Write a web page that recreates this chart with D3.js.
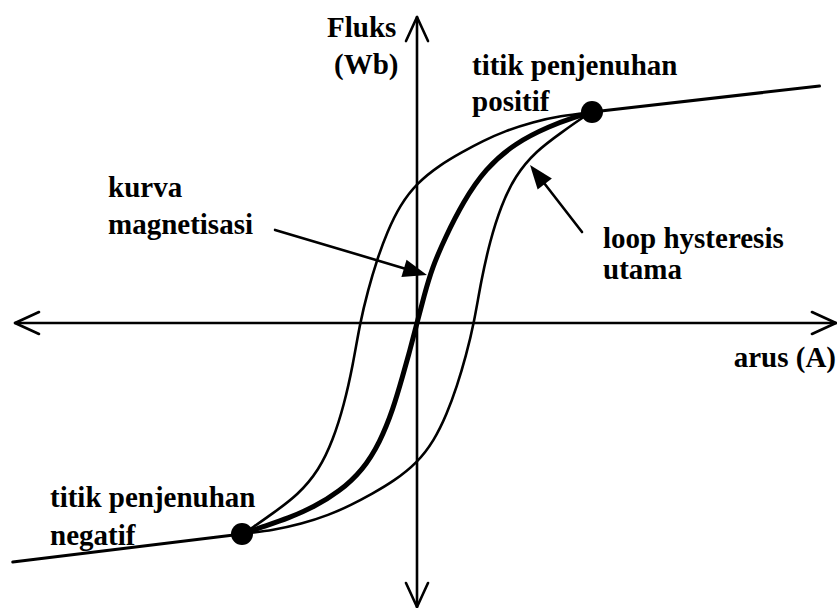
<!DOCTYPE html>
<html>
<head>
<meta charset="utf-8">
<script src="https://cdn.jsdelivr.net/npm/d3@7/dist/d3.min.js"></script>
<style>
  html, body { margin: 0; padding: 0; background: #fff; }
</style>
</head>
<body>
<svg id="chart" width="837" height="608"></svg>
<script>
// Normalised current (x) and flux (y); saturation at (±1, ±1).
const saturationPoints = [[1, 1], [-1, -1]];

// Beyond saturation the flux grows only slowly.
const saturationTailPos = [[1, 1], [2.30, 1.123]];
const saturationTailNeg = [[-1, -1], [-2.31, -1.133]];

// Initial magnetisation curve (drawn heavy).
const magnetisationCurve = [
  [-1, -1], [-0.886, -0.967], [-0.731, -0.924], [-0.589, -0.872], [-0.446, -0.801],
  [-0.309, -0.697], [-0.211, -0.564], [-0.137, -0.41], [-0.08, -0.246], [-0.04, -0.128],
  [0, 0], [0.04, 0.128], [0.086, 0.261], [0.16, 0.403], [0.263, 0.573],
  [0.389, 0.73], [0.56, 0.853], [0.76, 0.934], [0.903, 0.976], [1, 1]
];

// Main hysteresis loop: descending branch (positive -> negative saturation).
const loopDescending = [
  [1, 1], [0.817, 0.981], [0.663, 0.953], [0.503, 0.91], [0.377, 0.863],
  [0.257, 0.81], [0.131, 0.749], [0, 0.664], [-0.097, 0.559], [-0.171, 0.431],
  [-0.229, 0.299], [-0.28, 0.156], [-0.326, 0], [-0.366, -0.199], [-0.417, -0.389],
  [-0.48, -0.555], [-0.56, -0.697], [-0.68, -0.815], [-0.829, -0.905],
  [-0.943, -0.972], [-1, -1]
];

// Main hysteresis loop: ascending branch (negative -> positive saturation).
const loopAscending = [
  [-1, -1], [-0.817, -0.981], [-0.663, -0.953], [-0.503, -0.91], [-0.377, -0.863],
  [-0.257, -0.81], [-0.131, -0.749], [0, -0.664], [0.097, -0.559], [0.171, -0.431],
  [0.229, -0.299], [0.28, -0.156], [0.326, 0], [0.366, 0.199], [0.417, 0.389],
  [0.48, 0.555], [0.56, 0.697], [0.68, 0.815], [0.829, 0.905],
  [0.943, 0.972], [1, 1]
];

// Axis extents in data units.
const xAxisExtent = [-2.297, 2.394];
const yAxisExtent = [-1.346, 1.45];

// Callout arrows: [from, to] in data units.
const calloutMagnetisation = [[-0.811, 0.441], [0.057, 0.227]];
const calloutLoop = [[0.943, 0.431], [0.646, 0.749]];

const labels = [
  { lines: ["Fluks", "(Wb)"], x: 327, y: 37, dy: 37, dx: [0, 7] },
  { lines: ["titik penjenuhan", "positif"], x: 472, y: 75, dy: 36 },
  { lines: ["kurva", "magnetisasi"], x: 108, y: 197, dy: 37 },
  { lines: ["loop hysteresis", "utama"], x: 603, y: 248, dy: 31 },
  { lines: ["arus (A)"], x: 836, y: 367, dy: 0, anchor: "end" },
  { lines: ["titik penjenuhan", "negatif"], x: 50, y: 507, dy: 38 }
];

const svg = d3.select("#chart");

const x = d3.scaleLinear().domain([-1, 1]).range([417 - 175, 417 + 175]);
const y = d3.scaleLinear().domain([-1, 1]).range([323 + 211, 323 - 211]);

const line = d3.line().x(d => x(d[0])).y(d => y(d[1])).curve(d3.curveBasis);
const straight = d3.line().x(d => x(d[0])).y(d => y(d[1]));

// Axes with open arrowheads
const ax = svg.append("g").attr("stroke", "#000").attr("stroke-width", 2.6)
  .attr("fill", "none").attr("stroke-linecap", "round").attr("stroke-linejoin", "round");
ax.append("line").attr("x1", x(xAxisExtent[0])).attr("x2", x(xAxisExtent[1]))
  .attr("y1", y(0)).attr("y2", y(0));
ax.append("line").attr("x1", x(0)).attr("x2", x(0))
  .attr("y1", y(yAxisExtent[0])).attr("y2", y(yAxisExtent[1]));
const headL = 24, headW = 11;
const xl = x(xAxisExtent[0]), xr = x(xAxisExtent[1]), yt = y(yAxisExtent[1]), yb = y(yAxisExtent[0]);
ax.append("path").attr("d", `M${xl + headL},${y(0) - headW}L${xl},${y(0)}L${xl + headL},${y(0) + headW}`);
ax.append("path").attr("d", `M${xr - headL},${y(0) - headW}L${xr},${y(0)}L${xr - headL},${y(0) + headW}`);
ax.append("path").attr("d", `M${x(0) - headW},${yt + headL}L${x(0)},${yt}L${x(0) + headW},${yt + headL}`);
ax.append("path").attr("d", `M${x(0) - headW},${yb - headL}L${x(0)},${yb}L${x(0) + headW},${yb - headL}`);

// Curves
const curves = svg.append("g").attr("fill", "none").attr("stroke", "#000").attr("stroke-linecap", "round");
curves.append("path").attr("d", line(loopDescending)).attr("stroke-width", 2.6);
curves.append("path").attr("d", line(loopAscending)).attr("stroke-width", 2.6);
curves.append("path").attr("d", line(magnetisationCurve)).attr("stroke-width", 5);
curves.append("path").attr("d", straight(saturationTailPos)).attr("stroke-width", 3);
curves.append("path").attr("d", straight(saturationTailNeg)).attr("stroke-width", 3);

// Saturation points
svg.append("g").selectAll("circle").data(saturationPoints).join("circle")
  .attr("cx", d => x(d[0])).attr("cy", d => y(d[1])).attr("r", 11).attr("fill", "#000");

// Callout arrows with filled heads
function callout(pts) {
  const [x0, y0] = [x(pts[0][0]), y(pts[0][1])];
  const [x1, y1] = [x(pts[1][0]), y(pts[1][1])];
  const ang = Math.atan2(y1 - y0, x1 - x0);
  const L = 24, W = 9;
  const bx = x1 - L * Math.cos(ang), by = y1 - L * Math.sin(ang);
  const g = svg.append("g");
  g.append("line").attr("x1", x0).attr("y1", y0).attr("x2", bx + 4 * Math.cos(ang)).attr("y2", by + 4 * Math.sin(ang))
    .attr("stroke", "#000").attr("stroke-width", 2.6).attr("stroke-linecap", "round");
  const nx = -Math.sin(ang), ny = Math.cos(ang);
  g.append("path")
    .attr("d", `M${x1},${y1}L${bx + W * nx},${by + W * ny}L${bx - W * nx},${by - W * ny}Z`)
    .attr("fill", "#000");
}
callout(calloutMagnetisation);
callout(calloutLoop);

// Text labels
labels.forEach(l => {
  const t = svg.append("text")
    .attr("text-anchor", l.anchor || "start")
    .attr("font-family", "'Liberation Serif', 'DejaVu Serif', 'Times New Roman', serif")
    .attr("font-weight", "bold")
    .attr("font-size", 29)
    .attr("fill", "#000");
  l.lines.forEach((s, i) => {
    t.append("tspan").attr("x", l.x + (l.dx ? l.dx[i] : 0)).attr("y", l.y + i * l.dy).text(s);
  });
});
</script>
</body>
</html>
